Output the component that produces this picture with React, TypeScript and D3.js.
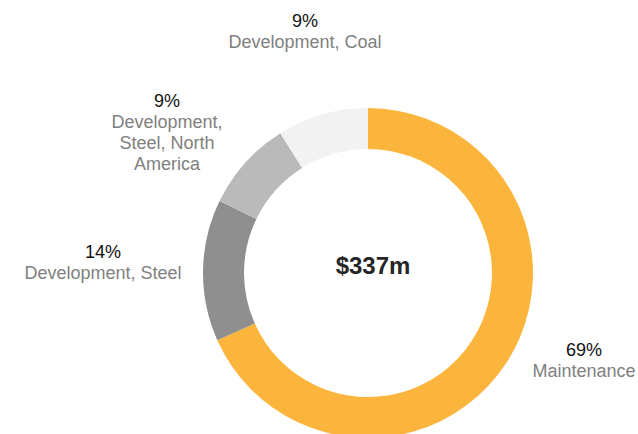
import React from "react";
import * as d3 from "d3";

const categories: string[][] = [
  ["Maintenance"],
  ["Development, Steel"],
  ["Development,", "Steel, North", "America"],
  ["Development, Coal"],
];
const values: number[] = [69, 14, 9, 9];
const totalLabel = "$337m";
const colors = ["#FBB53C", "#8F8F8F", "#BABABA", "#F2F2F2"];

// label anchor (center x, baseline of percentage line)
const labelPos: [number, number][] = [
  [584, 356],
  [103, 258],
  [167, 107],
  [305, 27],
];

const W = 638;
const H = 434;
const CX = 368;
const CY = 273;
const R_OUT = 165;
const R_IN = 124;
const LINE = 21;

export default function App() {
  const pie = d3
    .pie<number>()
    .sort(null)
    .value((d) => d)
    .startAngle(0)
    .endAngle(2 * Math.PI);
  const arcs = pie(values);
  const arc = d3
    .arc<d3.PieArcDatum<number>>()
    .innerRadius(R_IN)
    .outerRadius(R_OUT);

  return (
    <svg
      width={W}
      height={H}
      style={{ position: "fixed", left: 0, top: 0, background: "#fff" }}
      fontFamily="'Liberation Sans', Arial, sans-serif"
    >
      <rect width={W} height={H} fill="#fff" />
      <g transform={`translate(${CX},${CY})`}>
        {arcs.map((a, i) => (
          <path key={i} d={arc(a) || ""} fill={colors[i]} />
        ))}
      </g>
      <text
        x={373}
        y={274}
        textAnchor="middle"
        fontSize={24}
        fontWeight="bold"
        fill="#262626"
      >
        {totalLabel}
      </text>
      {categories.map((lines, i) => {
        const [x, y] = labelPos[i];
        return (
          <g key={i}>
            <text x={x} y={y} textAnchor="middle" fontSize={18} fill="#111">
              {`${values[i]}%`}
            </text>
            {lines.map((ln, j) => (
              <text
                key={j}
                x={x}
                y={y + LINE * (j + 1)}
                textAnchor="middle"
                fontSize={18}
                fill="#808080"
              >
                {ln}
              </text>
            ))}
          </g>
        );
      })}
    </svg>
  );
}
